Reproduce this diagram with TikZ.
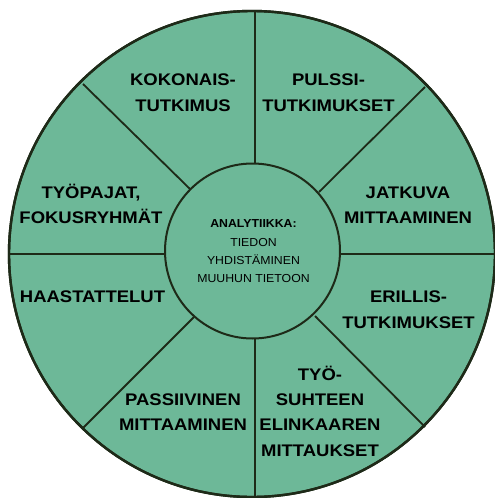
\documentclass[tikz,border=0pt]{standalone}
\usepackage{fontspec}
\newfontfamily\labfont[FakeStretch=1.1]{Liberation Sans}
\newfontfamily\cenfont[FakeStretch=1.06]{Liberation Sans}
\definecolor{wheelfill}{HTML}{6DB898}
\definecolor{wheelline}{HTML}{1E2A18}
\tikzset{
  spoke/.style={draw=wheelline, line width=1.8pt},
  rim/.style={draw=wheelline, fill=wheelfill, line width=2.4pt},
  hub/.style={draw=wheelline, fill=wheelfill, line width=2pt},
  lab/.style={anchor=base, align=center, inner sep=0pt, text=black,
    font=\labfont\bfseries\fontsize{16.8}{25.3}\selectfont},
  cen/.style={anchor=base, align=center, inner sep=0pt, text=black,
    font=\cenfont\fontsize{11.6}{18.3}\selectfont}
}
\begin{document}
\begin{tikzpicture}[x=1pt,y=-1pt]
\useasboundingbox (0,0) rectangle (495,498);
\clip (0,0) rectangle (495,498);
\fill[white] (0,0) rectangle (495,498);
% outer disc
\path[rim] (252,254) circle[radius=243];
% spokes
\coordinate (t1) at (255,11);   \coordinate (t2) at (255,164);
\coordinate (b1) at (255,339);  \coordinate (b2) at (255,498);
\coordinate (l1) at (9,254);    \coordinate (l2) at (166,254);
\coordinate (r1) at (339,254);  \coordinate (r2) at (495,254);
\coordinate (tl1) at (83,84);   \coordinate (tl2) at (190,189);
\coordinate (tr1) at (425,87);  \coordinate (tr2) at (319,192);
\coordinate (bl1) at (194,317); \coordinate (bl2) at (83,428);
\coordinate (br1) at (315,316); \coordinate (br2) at (425,427);
\draw[spoke] (t1) -- (t2);
\draw[spoke] (b1) -- (b2);
\draw[spoke] (l1) -- (l2);
\draw[spoke] (r1) -- (r2);
\draw[spoke] (tl1) -- (tl2);
\draw[spoke] (tr1) -- (tr2);
\draw[spoke] (bl1) -- (bl2);
\draw[spoke] (br1) -- (br2);
% rim redraw
\draw[draw=wheelline, line width=2.4pt] (252,254) circle[radius=243];
% hub
\path[hub] (252.5,251) circle[radius=87.5];
% labels (anchor = baseline of last line)
\node[lab] (kok) at (183,111) {KOKONAIS-\\TUTKIMUS};
\node[lab] (pul) at (328.5,111) {PULSSI-\\TUTKIMUKSET};
\node[lab] (tyo) at (91,223.5) {TYÖPAJAT,\\FOKUSRYHMÄT};
\node[lab] (jat) at (408,223.5) {JATKUVA\\MITTAAMINEN};
\node[lab] (haa) at (92.5,302) {HAASTATTELUT};
\node[lab] (eri) at (408.5,328) {ERILLIS-\\TUTKIMUKSET};
\node[lab] (pas) at (183,430.5) {PASSIIVINEN\\MITTAAMINEN};
\node[lab] (tys) at (320,456) {TYÖ-\\SUHTEEN\\ELINKAAREN\\MITTAUKSET};
\node[cen] (ana) at (253.5,282.7) {{\bfseries ANALYTIIKKA:}\\TIEDON\\YHDISTÄMINEN\\MUUHUN TIETOON};
\end{tikzpicture}
\end{document}
